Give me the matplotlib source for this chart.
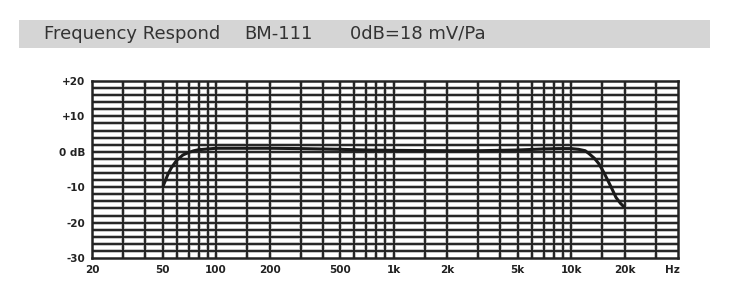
import matplotlib
matplotlib.use("Agg")
import matplotlib.pyplot as plt
import matplotlib.transforms as mtrans
from matplotlib.patches import Rectangle

# ---- data ----
freq_hz = [50, 53.7, 56, 60, 65, 70, 75, 80, 90, 100, 150, 200, 300, 500, 700,
           1000, 2000, 3000, 5000, 7000, 8500, 10000, 11000, 12000, 12600, 13500,
           14300, 15200, 16100, 17000, 17900, 19000, 20000]
response_db = [-10, -6.2, -4.5, -2.4, -0.9, -0.2, 0.3, 0.6, 0.8, 1.0, 1.0, 1.0, 0.9,
               0.7, 0.5, 0.4, 0.3, 0.3, 0.5, 0.8, 0.9, 0.9, 0.7, 0.3, -0.5, -1.8,
               -3.3, -5.6, -8.1, -10.5, -12.9, -14.6, -15.7]

x_ticks = [20, 50, 100, 200, 500, 1000, 2000, 5000, 10000, 20000]
x_ticklabels = ["20", "50", "100", "200", "500", "1k", "2k", "5k", "10k", "20k"]
y_ticks = [20, 10, 0, -10, -20, -30]
y_ticklabels = ["+20", "+10", "0 dB", "-10", "-20", "-30"]
v_grid = [30, 40, 50, 60, 70, 80, 90, 100, 150, 200, 300, 400, 500, 600, 700, 800,
          900, 1000, 1500, 2000, 3000, 4000, 5000, 6000, 7000, 8000, 9000, 10000,
          15000, 20000, 30000]
h_grid = list(range(-28, 20, 2))

title_parts = ["Frequency Respond", "BM-111", "0dB=18 mV/Pa"]

W, H = 747, 288
fig = plt.figure(figsize=(W / 100, H / 100), dpi=100)
fig.patch.set_facecolor("white")

# title bar
fig.patches.append(Rectangle((19 / W, 1 - 48 / H), (710 - 19) / W, 28 / H,
                             transform=fig.transFigure, facecolor="#d5d5d5",
                             edgecolor="none", zorder=0))
tx = [44, 244, 350]
for t, x in zip(title_parts, tx):
    fig.text(x / W, 1 - 34 / H, t, ha="left", va="center", fontsize=13,
             color="#333333", family="DejaVu Sans")

ax = fig.add_axes([92 / W, 30 / H, (678 - 92) / W, 177 / H])
ax.set_xscale("log")
ax.set_xlim(20, 40000)
ax.set_ylim(-30, 20)

dark = "#232323"
halo = "#b8b8b8"
for v in v_grid:
    ax.axvline(v, color=halo, lw=2.6, zorder=1)
    ax.axvline(v, color=dark, lw=1.4, zorder=2)
for h in h_grid:
    ax.axhline(h, color=halo, lw=2.6, zorder=1)
    ax.axhline(h, color=dark, lw=1.4, zorder=2)

ax.plot(freq_hz, response_db, color="#1a1a1a", lw=2.2, zorder=5,
        solid_capstyle="butt")

for s in ax.spines.values():
    s.set_linewidth(1.8)
    s.set_color(dark)

ax.minorticks_off()
ax.set_xticks(x_ticks)
ax.set_xticklabels(x_ticklabels)
ax.set_yticks(y_ticks)
ax.set_yticklabels(y_ticklabels)
ax.tick_params(length=0, pad=5, labelsize=7.5, labelcolor="#222222")
for lab in ax.get_xticklabels() + ax.get_yticklabels():
    lab.set_fontweight("bold")
ax.text(37000, -30, "Hz", ha="center", va="top", fontsize=7.5,
        fontweight="bold", color="#222222",
        transform=ax.transData + mtrans.ScaledTranslation(0, -5 / 72, fig.dpi_scale_trans))

fig.savefig("out.png", dpi=100)
